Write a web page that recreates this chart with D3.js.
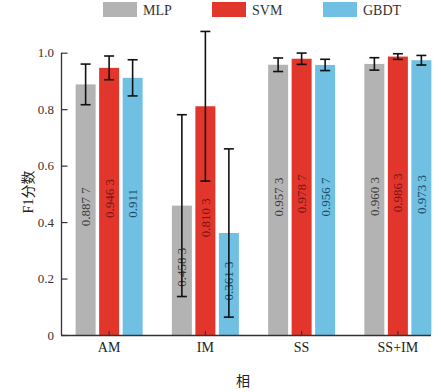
<!DOCTYPE html>
<html>
<head>
<meta charset="utf-8">
<script src="https://cdn.jsdelivr.net/npm/d3@7"></script>
<style>
  html, body { margin: 0; padding: 0; background: #fff; }
  svg { display: block; }
</style>
</head>
<body>
<svg id="chart" width="441" height="392"></svg>
<script>
const categories = ["AM", "IM", "SS", "SS+IM"];
const seriesNames = ["MLP", "SVM", "GBDT"];
const mlpValues  = [0.8877, 0.4583, 0.9573, 0.9603];
const svmValues  = [0.9463, 0.8103, 0.9787, 0.9863];
const gbdtValues = [0.911, 0.3613, 0.9567, 0.9733];
const mlpErrors  = [0.072, 0.322, 0.024, 0.022];
const svmErrors  = [0.042, 0.265, 0.020, 0.010];
const gbdtErrors = [0.064, 0.298, 0.020, 0.017];
const mlpLabels  = ["0.887 7", "0.458 3", "0.957 3", "0.960 3"];
const svmLabels  = ["0.946 3", "0.810 3", "0.978 7", "0.986 3"];
const gbdtLabels = ["0.911", "0.361 3", "0.956 7", "0.973 3"];
const yTicks = [0, 0.2, 0.4, 0.6, 0.8, 1.0];
const yTickLabels = ["0", "0.2", "0.4", "0.6", "0.8", "1.0"];
const yTitle = "F1分数";
const xTitle = "相";

const colors = { MLP: "#b3b3b3", SVM: "#e2362c", GBDT: "#6fc0e2" };
const textColors = { MLP: "#3c3c3c", SVM: "#7a1414", GBDT: "#1d4a66" };

const values = { MLP: mlpValues, SVM: svmValues, GBDT: gbdtValues };
const errors = { MLP: mlpErrors, SVM: svmErrors, GBDT: gbdtErrors };
const labels = { MLP: mlpLabels, SVM: svmLabels, GBDT: gbdtLabels };

const svg = d3.select("#chart");
const serif = "'Liberation Serif', 'Times New Roman', 'DejaVu Serif', serif";

const y = d3.scaleLinear().domain([0, 1]).range([335, 52.7]);
const x0 = d3.scaleBand().domain(categories).range([61, 446]).padding(0);
const x1 = d3.scaleBand().domain(seriesNames).range([-33.5, 33.5]).paddingInner(0.149).paddingOuter(0);

const data = [];
categories.forEach((c, i) => {
  seriesNames.forEach(s => {
    data.push({ cat: c, s, v: values[s][i], e: errors[s][i], label: labels[s][i] });
  });
});
const cx = d => x0(d.cat) + x0.bandwidth() / 2 + x1(d.s);

// bars
svg.append("g").selectAll("rect").data(data).join("rect")
  .attr("x", d => cx(d))
  .attr("y", d => y(d.v))
  .attr("width", x1.bandwidth())
  .attr("height", d => y(0) - y(d.v))
  .attr("fill", d => colors[d.s]);

// value labels
svg.append("g").selectAll("text").data(data).join("text")
  .attr("transform", d => `translate(${cx(d) + x1.bandwidth() / 2},${(y(d.v) + y(0)) / 2 - 3}) rotate(-90)`)
  .attr("text-anchor", "middle")
  .attr("dominant-baseline", "central")
  .attr("font-family", serif)
  .attr("font-size", 13)
  .attr("fill", d => textColors[d.s])
  .text(d => d.label);

// error bars
const eg = svg.append("g").attr("stroke", "#111").attr("stroke-width", 1.6).attr("fill", "none");
data.forEach(d => {
  const mx = cx(d) + x1.bandwidth() / 2;
  const top = y(d.v + d.e), bot = y(d.v - d.e);
  eg.append("line").attr("x1", mx).attr("x2", mx).attr("y1", top).attr("y2", bot);
  eg.append("line").attr("x1", mx - 5).attr("x2", mx + 5).attr("y1", top).attr("y2", top);
  eg.append("line").attr("x1", mx - 5).attr("x2", mx + 5).attr("y1", bot).attr("y2", bot);
});

// axes lines
svg.append("line").attr("x1", 61.5).attr("x2", 61.5).attr("y1", y(1)).attr("y2", y(0))
  .attr("stroke", "#333").attr("stroke-width", 1.3);
svg.append("line").attr("x1", 61).attr("x2", 431).attr("y1", y(0) + 0.5).attr("y2", y(0) + 0.5)
  .attr("stroke", "#333").attr("stroke-width", 1.3);

// y ticks (inward)
const yAxis = d3.axisRight(y).tickValues(yTicks).tickSize(6).tickFormat("");
const gy = svg.append("g").attr("transform", "translate(61.5,0)").call(yAxis);
gy.select(".domain").remove();
gy.selectAll("line").attr("stroke", "#333").attr("stroke-width", 1.2);
svg.append("g").selectAll("text").data(yTicks).join("text")
  .attr("x", 54).attr("y", d => y(d))
  .attr("text-anchor", "end").attr("dominant-baseline", "central")
  .attr("font-family", serif).attr("font-size", 13).attr("fill", "#333")
  .text((d, i) => yTickLabels[i]);

// x ticks (inward) and labels
const xAxis = d3.axisTop(x0).tickSize(4).tickFormat("");
const gx = svg.append("g").attr("transform", `translate(0,${y(0)})`).call(xAxis);
gx.select(".domain").remove();
gx.selectAll("line").attr("stroke", "#333").attr("stroke-width", 1.1);
svg.append("g").selectAll("text").data(categories).join("text")
  .attr("x", d => x0(d) + x0.bandwidth() / 2).attr("y", 352)
  .attr("text-anchor", "middle")
  .attr("font-family", serif).attr("font-size", 14).attr("fill", "#222")
  .text(d => d);

// axis titles
svg.append("text")
  .attr("transform", "translate(28,192) rotate(-90)")
  .attr("text-anchor", "middle").attr("dominant-baseline", "central")
  .attr("font-family", "'Liberation Serif', 'Noto Sans CJK SC', serif")
  .attr("font-size", 14).attr("fill", "#222")
  .text(yTitle);
svg.append("text")
  .attr("x", 243).attr("y", 386)
  .attr("text-anchor", "middle")
  .attr("font-family", "'Noto Sans CJK SC', sans-serif")
  .attr("font-size", 14).attr("fill", "#222")
  .text(xTitle);

// legend
const legendX = [103, 212, 323];
const lg = svg.append("g");
seriesNames.forEach((s, i) => {
  lg.append("rect").attr("x", legendX[i]).attr("y", 2).attr("width", 34).attr("height", 15)
    .attr("fill", colors[s]);
  lg.append("text").attr("x", legendX[i] + 40).attr("y", 15)
    .attr("font-family", serif).attr("font-size", 14).attr("fill", "#333")
    .text(s);
});
</script>
</body>
</html>
